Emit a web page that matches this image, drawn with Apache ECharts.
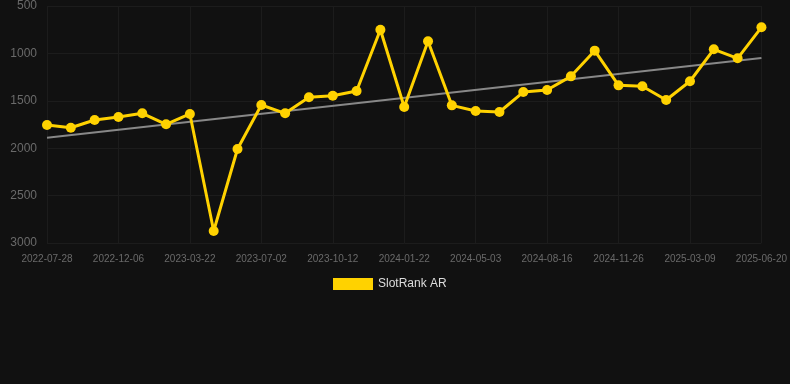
<!DOCTYPE html>
<html><head><meta charset="utf-8">
<script src="https://cdn.jsdelivr.net/npm/echarts@6/dist/echarts.min.js"></script>
<style>html,body{margin:0;padding:0;background:#111111;}#c{width:790px;height:384px;}</style>
</head><body><div id="c"></div>
<script>
var dates = ['2022-07-28','2022-09-10','2022-10-23','2022-12-06','2023-01-10','2023-02-15','2023-03-22','2023-04-25','2023-05-29','2023-07-02','2023-08-05','2023-09-08','2023-10-12','2023-11-15','2023-12-19','2024-01-22','2024-02-25','2024-03-30','2024-05-03','2024-06-06','2024-07-11','2024-08-16','2024-09-19','2024-10-23','2024-11-26','2024-12-30','2025-02-03','2025-03-09','2025-04-12','2025-05-16','2025-06-20'];
var rankAR = [1755,1784,1703,1671,1632,1748,1639,2873,2008,1544,1632,1463,1446,1397,750,1565,872,1548,1608,1618,1408,1386,1242,971,1337,1347,1492,1294,957,1052,725];
var trendEnds = [1889, 1049];
var yTicks = [500, 1000, 1500, 2000, 2500, 3000];

var trend = dates.map(function(d,i){ return i===0 ? trendEnds[0] : (i===dates.length-1 ? trendEnds[1] : null); });

var chart = echarts.init(document.getElementById('c'), null, {renderer:'canvas'});
chart.setOption({
  backgroundColor: '#111111',
  animation: false,
  grid: {left: 47, right: 28, top: 6, bottom: 141},
  legend: {
    data: ['SlotRank AR'], top: 273, left: 328,
    itemWidth: 40, itemHeight: 12, icon: 'rect', itemGap: 10,
    textStyle: {color: '#dddddd', fontSize: 12, fontFamily: 'Liberation Sans, Arial, sans-serif'}
  },
  xAxis: {
    type: 'category', data: dates, boundaryGap: false,
    axisLine: {show: false},
    axisTick: {show: false},
    axisLabel: {interval: 2, color: '#6a6a6a', fontSize: 10, margin: 11, fontFamily: 'Liberation Sans, Arial, sans-serif'},
    splitLine: {show: true, interval: 2, lineStyle: {color: '#1c1c1c', width: 1}}
  },
  yAxis: {
    type: 'value', inverse: true, min: yTicks[0], max: yTicks[yTicks.length-1], interval: 500,
    axisLine: {show: false}, axisTick: {show: false},
    axisLabel: {color: '#6a6a6a', fontSize: 12, margin: 10, fontFamily: 'Liberation Sans, Arial, sans-serif',
      formatter: function(v){ return String(v); }},
    splitLine: {lineStyle: {color: '#1c1c1c', width: 1}}
  },
  series: [
    {
      name: 'SlotRank AR', type: 'line', data: rankAR,
      symbol: 'circle', symbolSize: 10,
      lineStyle: {color: '#ffd200', width: 3},
      itemStyle: {color: '#ffd200'},
      z: 3
    },
    {
      name: 'trend', type: 'line', data: trend, connectNulls: true,
      symbol: 'none', lineStyle: {color: '#888888', width: 2},
      z: 2
    }
  ]
});
</script></body></html>
